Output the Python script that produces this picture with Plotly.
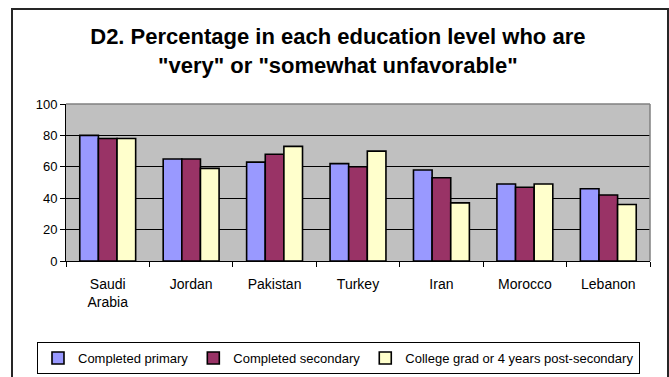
import plotly.graph_objects as go

# Survey results by country and education level (percent)
countries = ["Saudi<br>Arabia", "Jordan", "Pakistan", "Turkey", "Iran", "Morocco", "Lebanon"]
primary = [80, 65, 63, 62, 58, 49, 46]
secondary = [78, 65, 68, 60, 53, 47, 42]
college = [78, 59, 73, 70, 37, 49, 36]
series_names = ["Completed primary", "Completed secondary",
                "College grad or 4 years post-secondary"]
series_colors = ["#9999FF", "#993366", "#FFFFCC"]
y_ticks = [0, 20, 40, 60, 80, 100]

W, H = 669, 377
L, R, T, B = 66, 19, 104, 116
pw, ph = W - L - R, H - T - B

def px_x(p):
    return (p - L) / pw

def px_y(p):
    return (H - B - p) / ph

fig = go.Figure()
for name, vals, col in zip(series_names, [primary, secondary, college], series_colors):
    fig.add_trace(go.Bar(
        x=countries, y=vals, name=name,
        marker=dict(color=col, line=dict(color="#000000", width=1.6)),
    ))

font = "Liberation Sans, Arial, sans-serif"

fig.update_layout(
    width=W, height=H,
    margin=dict(l=L, r=R, t=T, b=B, autoexpand=False),
    paper_bgcolor="white",
    plot_bgcolor="#C0C0C0",
    barmode="group",
    bargap=0.33,
    bargroupgap=0,
    font=dict(family=font, color="#000000", size=13),
    title=dict(
        text='D2. Percentage in each education level who are<br>"very" or "somewhat unfavorable"',
        font=dict(family=font, size=22, color="#000000", weight="bold"),
        x=0.505, xanchor="center", xref="container",
        y=1 - 44 / H, yanchor="top", yref="container",
    ),
    showlegend=True,
    legend=dict(
        orientation="h",
        x=px_x(37), xanchor="left",
        y=px_y(342), yanchor="top",
        bordercolor="#000000", borderwidth=1,
        bgcolor="white",
        font=dict(family=font, size=13),
        traceorder="normal",
    ),
    xaxis=dict(
        type="category",
        showline=True, linecolor="#000000", linewidth=1,
        ticks="outside", ticklen=5, tickcolor="#000000",
        tickson="boundaries",
        showgrid=False,
        tickfont=dict(family=font, size=14),
        ticklabelstandoff=10,
        automargin=False,
        fixedrange=True,
    ),
    yaxis=dict(
        range=[0, 100],
        tickvals=y_ticks,
        showline=True, linecolor="#000000", linewidth=1,
        ticks="outside", ticklen=5, tickcolor="#000000",
        showgrid=True, gridcolor="#000000", gridwidth=1,
        zeroline=False,
        tickfont=dict(family=font, size=13),
        automargin=False,
        fixedrange=True,
    ),
    shapes=[
        # gray top and right edges of the plot area
        dict(type="line", xref="paper", yref="paper", x0=0, x1=1, y0=1, y1=1,
             line=dict(color="#808080", width=1.5), layer="above"),
        dict(type="line", xref="paper", yref="paper", x0=1, x1=1, y0=0, y1=1,
             line=dict(color="#808080", width=1.5), layer="above"),
        # outer chart frame
        dict(type="rect", xref="paper", yref="paper",
             x0=px_x(12), x1=px_x(668), y0=px_y(385), y1=px_y(9),
             line=dict(color="#262626", width=2), layer="below"),
    ],
)

fig.write_html("out.html")
